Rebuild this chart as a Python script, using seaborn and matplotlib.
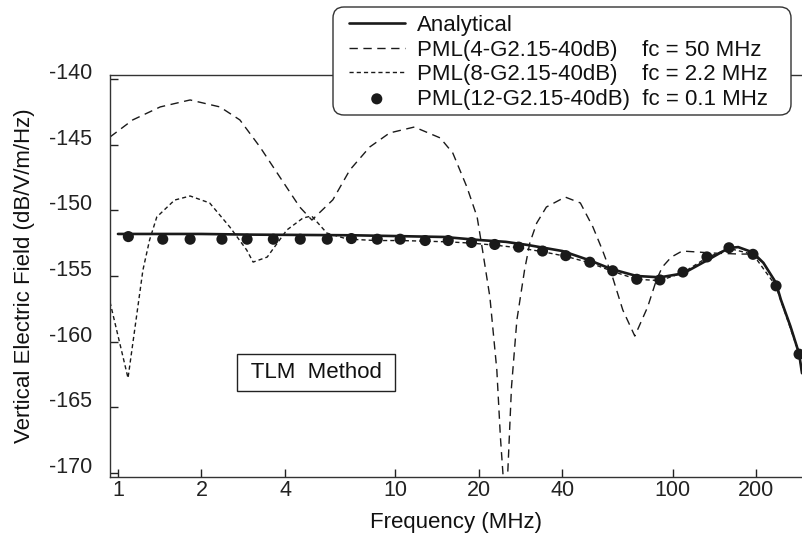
import numpy as np
import pandas as pd
import matplotlib
matplotlib.use("Agg")
import matplotlib.pyplot as plt
import matplotlib.patches as mpatches
import matplotlib.transforms as mtransforms
import seaborn as sns

# values (frequency in MHz, field in dB/V/m/Hz)
freq_analytical = [1.0, 1.5, 2.0, 3.0, 5.0, 7.0, 10, 15, 20, 25, 30, 40, 50, 60, 74, 90,
                   109, 133, 159, 172, 194, 212, 235, 245, 265, 285, 292]
field_analytical = [-151.8, -151.8, -151.8, -151.85, -151.88, -151.9, -151.96, -152.03, -152.26,
                    -152.4, -152.64, -153.1, -153.8, -154.47, -155.0, -155.1, -154.8, -153.8,
                    -152.87, -152.8, -153.2, -154.0, -155.5, -156.8, -158.8, -160.9, -162.4]

freq_pml4 = [0.936, 1.13, 1.42, 1.82, 2.33, 2.75, 3.25, 3.83, 4.52, 5.0, 5.95, 6.85, 8.08, 9.53,
             11.7, 14.5, 16.1, 18.1, 19.7, 20.6, 21.9, 23.2, 23.9, 24.4, 25.0, 25.4, 26.2, 27.4,
             29.2, 30.5, 32.3, 35.0, 40.9, 46.4, 51.5, 55.7, 60.6, 66.0, 72.9, 81.1, 87.2, 91.6,
             98.7, 108, 124, 138, 174, 192, 212, 235, 245, 265, 285, 292]
field_pml4 = [-144.42, -143.12, -142.13, -141.6, -142.13, -143.12, -145.18, -147.46, -149.75,
              -150.74, -149.2, -146.93, -145.18, -144.11, -143.66, -144.49, -145.64, -148.23,
              -150.51, -153.02, -156.6, -162.16, -167.27, -170.0, -176.0, -170.0, -163.46,
              -158.35, -154.55, -152.49, -150.97, -149.75, -148.99, -149.44, -151.27, -153.02,
              -155.08, -157.59, -159.57, -157.36, -155.31, -154.32, -153.56, -153.1, -153.18,
              -153.25, -153.33, -153.33, -154.0, -155.5, -156.8, -158.8, -160.9, -162.4]

freq_pml8 = [0.936, 1.087, 1.23, 1.30, 1.38, 1.60, 1.82, 2.14, 2.53, 2.91, 3.07, 3.45, 4.06,
             4.64, 4.99, 5.66, 6.71, 8.5, 10.4, 12.8, 15.5, 18.8, 22.8, 27.8, 33.9, 41.1, 50.2,
             60.7, 74.1, 89.8, 108.7, 132.7, 159.3, 194.4, 235, 285, 292]
field_pml8 = [-156.98, -162.77, -154.55, -152.26, -150.51, -149.22, -148.91, -149.44, -151.27,
              -153.02, -153.94, -153.56, -151.5, -150.59, -150.43, -151.73, -152.19, -152.3,
              -152.3, -152.35, -152.4, -152.5, -152.65, -152.85, -153.15, -153.5, -154.0,
              -154.65, -155.25, -155.35, -154.75, -153.6, -152.9, -153.35, -155.75, -160.9, -162.4]

freq_pml12 = [1.09, 1.45, 1.82, 2.37, 2.92, 3.63, 4.54, 5.68, 6.94, 8.6, 10.4, 12.8, 15.5, 18.8,
              22.8, 27.8, 33.9, 41.1, 50.2, 60.7, 74.1, 89.8, 108.7, 132.7, 159.3, 194.4, 235.4, 285]
field_pml12 = [-152.0, -152.2, -152.2, -152.2, -152.2, -152.2, -152.2, -152.2, -152.15, -152.2,
               -152.2, -152.3, -152.3, -152.45, -152.6, -152.8, -153.1, -153.45, -153.95, -154.6,
               -155.25, -155.3, -154.7, -153.55, -152.85, -153.35, -155.75, -160.95]

x_ticks = [1, 2, 4, 10, 20, 40, 100, 200]
y_ticks = [-170, -165, -160, -155, -150, -145, -140]

labels = ["Analytical",
          "PML(4-G2.15-40dB)    fc = 50 MHz",
          "PML(8-G2.15-40dB)    fc = 2.2 MHz",
          "PML(12-G2.15-40dB)  fc = 0.1 MHz"]

sns.set_style("ticks")
plt.rcParams["font.family"] = ["Liberation Sans", "DejaVu Sans"]

ink = "#1a1a1a"
fig = plt.figure(figsize=(8.02, 5.40), dpi=100)
ax = fig.add_axes([110 / 802, 63 / 540, 692 / 802, 402 / 540])

sns.lineplot(x=freq_analytical, y=field_analytical, ax=ax, color=ink, lw=1.9,
             sort=False, estimator=None, label=labels[0])
sns.lineplot(x=freq_pml4, y=field_pml4, ax=ax, color=ink, lw=1.0,
             linestyle=(0, (6, 4)), sort=False, estimator=None, label=labels[1])
sns.lineplot(x=freq_pml8, y=field_pml8, ax=ax, color=ink, lw=1.0,
             linestyle=(0, (3, 2.2)), sort=False, estimator=None, label=labels[2])
sns.scatterplot(x=freq_pml12, y=field_pml12, ax=ax, color=ink, s=64,
                edgecolor="none", zorder=5, label=labels[3])

ax.set_xscale("log")
ax.set_xlim(0.936, 292)
ax.set_ylim(-170.3, -139.7)
ax.set_xticks(x_ticks)
ax.set_xticklabels([str(t) for t in x_ticks])
ax.xaxis.set_minor_locator(matplotlib.ticker.NullLocator())
ax.set_yticks(y_ticks)
ax.set_yticklabels([str(t) for t in y_ticks])
for lbl in ax.get_yticklabels():
    lbl.set_verticalalignment("baseline")

ax.tick_params(axis="x", direction="in", length=6, width=1, pad=2, labelsize=15.5, colors="#222")
ax.tick_params(axis="y", direction="in", length=6, width=1, pad=13, labelsize=15.5, colors="#222")
for side in ["left", "bottom", "top"]:
    ax.spines[side].set_color("#333")
    ax.spines[side].set_linewidth(1.0)
ax.spines["right"].set_visible(False)

ax.set_xlabel("Frequency (MHz)", fontsize=16, color="#111", labelpad=8)
ax.set_ylabel("Vertical Electric Field (dB/V/m/Hz)", fontsize=16, color="#111", labelpad=10)

ax.text(0.298, 0.26, " TLM  Method ", transform=ax.transAxes, ha="center", va="center",
        fontsize=16, color="#111",
        bbox=dict(boxstyle="square,pad=0.35", facecolor="white", edgecolor="#222", lw=1.0))

# legend: rounded box drawn in pixels, entries as a figure legend on top of it
handles, labs = ax.get_legend_handles_labels()
if ax.get_legend() is not None:
    ax.get_legend().remove()

box = mpatches.FancyBboxPatch((333, 540 - 115), 458, 108,
                              boxstyle="round,pad=0,rounding_size=11",
                              transform=mtransforms.IdentityTransform(),
                              facecolor="white", edgecolor="#333", lw=1.0, zorder=3)
fig.add_artist(box)

leg = fig.legend(handles, labs, loc="upper left", bbox_to_anchor=(349 / 802, 1 - 15 / 540),
                 fontsize=16, frameon=False, borderpad=0, labelspacing=0.16,
                 handlelength=2.5, handletextpad=0.55, borderaxespad=0)
leg.set_zorder(4)
for t in leg.get_texts():
    t.set_color("#111")

fig.savefig("out.png", dpi=100)
